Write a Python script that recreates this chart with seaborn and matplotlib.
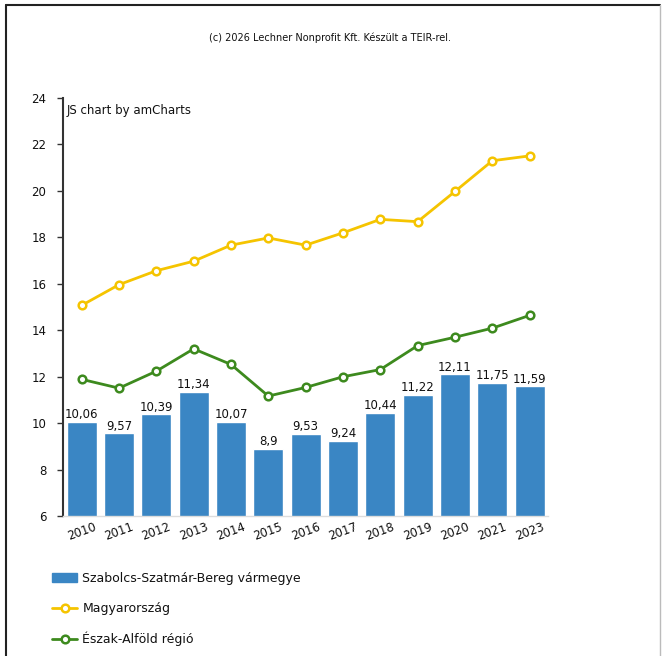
"""
Szabolcs-Szatmár-Bereg vármegye mutató összevetése az országos és régiós értékekkel.
Oszlop: vármegye, vonalak: Magyarország és Észak-Alföld régió.
"""

import matplotlib.pyplot as plt
import pandas as pd
import seaborn as sns
from matplotlib.lines import Line2D
from matplotlib.patches import Patch


years = ["2010", "2011", "2012", "2013", "2014", "2015", "2016",
         "2017", "2018", "2019", "2020", "2021", "2023"]
megye_values = [10.06, 9.57, 10.39, 11.34, 10.07, 8.9, 9.53,
                9.24, 10.44, 11.22, 12.11, 11.75, 11.59]
orszag_values = [15.07, 15.96, 16.56, 16.97, 17.66, 17.97, 17.66,
                 18.19, 18.77, 18.67, 19.97, 21.29, 21.5]
regio_values = [11.89, 11.51, 12.24, 13.2, 12.53, 11.17, 11.54,
                12.0, 12.31, 13.34, 13.7, 14.09, 14.64]

LABEL_MEGYE = "Szabolcs-Szatmár-Bereg vármegye"
LABEL_ORSZAG = "Magyarország"
LABEL_REGIO = "Észak-Alföld régió"

BAR_COLOR = "#3a86c4"
YELLOW = "#f5c400"
GREEN = "#3d8a1e"
TEXT_COLOR = "#111111"


def main() -> None:
    sns.set_theme(style="white")
    plt.rcParams["font.family"] = ["DejaVu Sans"]

    df = pd.DataFrame({
        "ev": years,
        "megye": megye_values,
        "orszag": orszag_values,
        "regio": regio_values,
    })

    fig = plt.figure(figsize=(6.63, 6.56), dpi=100)
    ax = fig.add_axes([0.095, 0.213, 0.732, 0.638])

    sns.barplot(data=df, x="ev", y="megye", color=BAR_COLOR, width=0.8,
                saturation=1, ax=ax, zorder=2)

    for values_col, color in (("orszag", YELLOW), ("regio", GREEN)):
        sns.pointplot(data=df, x="ev", y=values_col, color=color, markers="o",
                      ax=ax, markerfacecolor="white", markeredgecolor=color,
                      markeredgewidth=1.8, markersize=5.5, linewidth=2.0, zorder=4)

    # oszlopcímkék vesszős tizedesjellel
    for idx, value in enumerate(megye_values):
        ax.text(idx, value + 0.03, f"{value:g}".replace(".", ","),
                ha="center", va="bottom", fontsize=8.5, color=TEXT_COLOR, zorder=5)

    ax.set_ylim(6, 24)
    ax.set_yticks(range(6, 25, 2))
    ax.set_xlim(-0.5, len(years) - 0.5)
    ax.set_xlabel("")
    ax.set_ylabel("")
    ax.tick_params(axis="y", which="both", left=True, length=4, width=1,
                   color="#333333", labelsize=8.5, labelcolor=TEXT_COLOR, pad=8)
    ax.tick_params(axis="x", length=0, labelsize=8.5, labelcolor=TEXT_COLOR, pad=3)
    for label in ax.get_xticklabels():
        label.set_rotation(20)
        label.set_ha("center")
    for side in ("top", "right"):
        ax.spines[side].set_visible(False)
    ax.spines["left"].set_color("#333333")
    ax.spines["left"].set_linewidth(1.5)
    ax.spines["bottom"].set_color("#dddddd")
    ax.spines["bottom"].set_linewidth(1)

    ax.text(0.008, 0.985, "JS chart by amCharts", transform=ax.transAxes,
            ha="left", va="top", fontsize=8.5, color=TEXT_COLOR)

    fig.text(0.498, 0.942, "(c) 2026 Lechner Nonprofit Kft. Készült a TEIR-rel.",
             ha="center", va="center", fontsize=7, color=TEXT_COLOR)

    handles = [
        Patch(facecolor=BAR_COLOR, edgecolor=BAR_COLOR),
        Line2D([], [], color=YELLOW, marker="o", markerfacecolor="white",
               markeredgecolor=YELLOW, markeredgewidth=1.8, markersize=5.5, linewidth=2),
        Line2D([], [], color=GREEN, marker="o", markerfacecolor="white",
               markeredgecolor=GREEN, markeredgewidth=1.8, markersize=5.5, linewidth=2),
    ]
    fig.legend(handles, [LABEL_MEGYE, LABEL_ORSZAG, LABEL_REGIO],
               loc="upper left", bbox_to_anchor=(0.062, 0.145), frameon=False,
               fontsize=9, labelcolor=TEXT_COLOR, labelspacing=1.35,
               handlelength=2.0, handletextpad=0.4)

    # keret a kép szélén
    frame_kw = dict(color="#222222", linewidth=1.5, transform=fig.transFigure)
    fig.add_artist(Line2D([0.009, 0.995], [0.992, 0.992], **frame_kw))
    fig.add_artist(Line2D([0.009, 0.009], [0.0, 0.992], **frame_kw))
    fig.add_artist(Line2D([0.995, 0.995], [0.0, 0.992], color="#bbbbbb",
                          linewidth=1, transform=fig.transFigure))

    fig.savefig("out.png", dpi=100)
    plt.close(fig)


if __name__ == "__main__":
    main()
